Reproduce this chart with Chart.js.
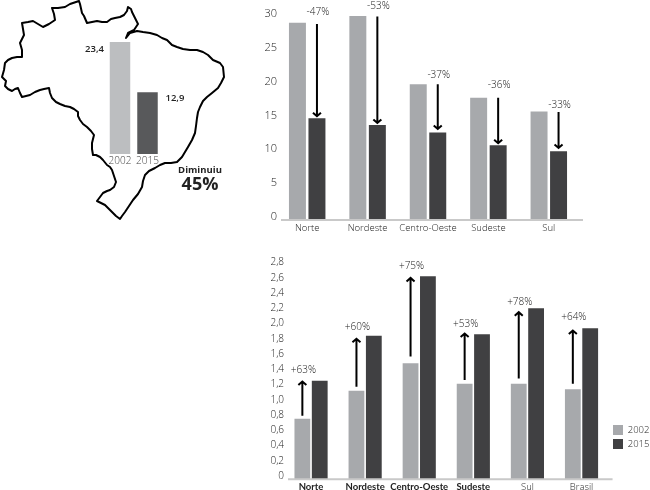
<!DOCTYPE html>
<html>
<head>
<meta charset="utf-8">
<title>Brasil 2002 / 2015</title>
<script src="https://cdn.jsdelivr.net/npm/chart.js@4/dist/chart.umd.min.js"></script>
<style>
	html, body { margin: 0; padding: 0; background: #fff; }
	#page { position: relative; width: 650px; height: 490px; overflow: hidden; }
	canvas { position: absolute; }
</style>
</head>
<body>
<div id="page">
	<canvas id="map-chart" width="240" height="230" style="left:0;top:0"></canvas>
	<canvas id="bar-chart1" width="330" height="240" style="left:260px;top:0"></canvas>
	<canvas id="bar-chart2" width="399" height="240" style="left:260px;top:250px"></canvas>
</div>
<script>
//Brazil total
const brazilYears = ['2002', '2015'];
const brazilValues = [23.4, 12.9];
const brazilLabels = ['23,4', '12,9'];

//Top chart
const regions1 = ['Norte', 'Nordeste', 'Centro-Oeste', 'Sudeste', 'Sul'];
const values1a = [28.7, 29.7, 19.6, 17.6, 15.6];
const values1b = [14.6, 13.6, 12.5, 10.6, 9.7];
const ticks1 = [0, 5, 10, 15, 20, 25, 30];
const pct1 = ['-47%', '-53%', '-37%', '-36%', '-33%'];
const arrowFrom1 = [28.5, 29.6, 19.6, 17.6, 15.5];
const arrowTo1 = [14.9, 13.9, 13.0, 10.9, 10.2];
const pctAt1 = [30.3, 31.2, 20.9, 19.5, 16.5];

//Bottom chart
const regions2 = ['Norte', 'Nordeste', 'Centro-Oeste', 'Sudeste', 'Sul', 'Brasil'];
const values2a = [0.75, 1.12, 1.48, 1.21, 1.21, 1.14];
const values2b = [1.25, 1.84, 2.62, 1.86, 2.20, 1.94];
const ticks2 = [0, 0.2, 0.4, 0.6, 0.8, 1.0, 1.2, 1.4, 1.6, 1.8, 2.0, 2.2, 2.4, 2.6, 2.8];
const tickLabels2 = ['0', '0,2', '0,4', '0,6', '0,8', '1,0', '1,2', '1,4', '1,6', '1,8', '2,0', '2,2', '2,4', '2,6', '2,8'];
const pct2 = ['+63%', '+60%', '+75%', '+53%', '+78%', '+64%'];
const arrowFrom2 = [0.79, 1.17, 1.57, 1.26, 1.28, 1.21];
const arrowTo2 = [1.24, 1.80, 2.60, 1.87, 2.15, 1.91];
const pctAt2 = [1.39, 1.95, 2.76, 1.99, 2.28, 2.08];

//Map outline, traced in canvas pixels
const mapOutline = [
	[76,2],[79,1],[80,4],[82,13],[84,16],[87,23],[92,22],[97,21],[102,22],[107,22],[111,19],[115,18],[120,17],[124,15],
	[127,11],[128,7],[131,9],[132,12],[135,18],[138,24],[134,30],[128,33],[126,38],[130,33],[137,31],[143,32],[150,33],
	[157,35],[162,38],[167,40],[172,45],[177,47],[183,49],[190,50],[197,50],[203,52],[208,55],[213,60],[220,63],[223,67],
	[224,77],[221,83],[218,88],[212,93],[207,97],[203,101],[200,107],[198,112],[197,118],[196,126],[195,133],[192,140],
	[188,147],[185,152],[182,157],[177,162],[171,163],[165,163],[160,165],[155,168],[149,171],[145,175],[143,181],[142,187],
	[138,194],[133,200],[129,206],[125,212],[122,216],[120,219],[116,216],[113,213],[109,209],[105,205],[101,203],[97,201],
	[100,197],[103,193],[107,191],[110,190],[114,187],[116,182],[114,176],[112,170],[110,167],[107,165],[103,160],[100,157],
	[96,155],[93,155],[92,149],[92,143],[94,135],[91,131],[87,127],[83,124],[80,120],[78,116],[78,112],[74,109],[70,107],
	[65,106],[60,104],[56,102],[52,98],[50,93],[49,88],[44,89],[40,90],[35,92],[30,95],[26,96],[22,97],[20,93],[18,88],
	[15,89],[12,91],[8,89],[5,86],[6,81],[2,77],[4,70],[5,63],[8,60],[12,58],[17,57],[22,57],[22,50],[20,43],[22,39],
	[24,35],[23,29],[22,23],[28,22],[33,21],[38,24],[43,27],[49,24],[55,20],[54,14],[52,8],[58,8],[65,7],[70,4],[76,2]
];

const fontName = '"Open Sans", sans-serif';
const textColor = '#222';

//draws the axis line a little to the right of the plot, like the original
const baseLine = {
	id: 'baseLine',
	afterDatasetsDraw(chart) {
		const a = chart.chartArea, c = chart.ctx;
		c.save();
		c.strokeStyle = '#c9c9c9';
		c.lineWidth = 2;
		c.beginPath();
		c.moveTo(a.left + 4, a.bottom);
		c.lineTo(a.right + 4, a.bottom);
		c.stroke();
		c.restore();
	}
};

//legend sits beside the bars, higher up than the library would put it
const moveLegend = {
	id: 'moveLegend',
	afterLayout(chart) {
		chart.legend.left = 349;
		chart.legend.bottom -= 37;
	}
};

//arrows and percent labels, placed through the y scale
function arrowPlugin(barSet, from, to, at, pct) {
	return {
		id: 'arrows',
		afterDraw(chart) {
			const c = chart.ctx, y = chart.scales.y, bars = chart.getDatasetMeta(barSet).data;
			c.save();
			c.strokeStyle = '#000';
			c.lineWidth = 2;
			c.fillStyle = textColor;
			c.textAlign = 'center';
			c.textBaseline = 'middle';
			c.font = '300 10px ' + fontName;
			bars.forEach(function(bar, i) {
				const x = bar.x, y0 = y.getPixelForValue(from[i]), y1 = y.getPixelForValue(to[i]);
				const dir = y1 > y0 ? -1 : 1;
				c.beginPath();
				c.moveTo(x, y0);
				c.lineTo(x, y1);
				c.moveTo(x - 4, y1 + dir * 3.5);
				c.lineTo(x, y1);
				c.lineTo(x + 4, y1 + dir * 3.5);
				c.stroke();
				c.fillText(pct[i], x + 1, y.getPixelForValue(at[i]));
			});
			c.restore();
		}
	};
}

const mapPlugin = {
	id: 'brazilMap',
	beforeDatasetsDraw(chart) {
		const c = chart.ctx;
		c.save();
		c.strokeStyle = '#000';
		c.lineWidth = 2;
		c.lineJoin = 'round';
		c.beginPath();
		mapOutline.forEach(function(p, i) {
			if (i === 0) c.moveTo(p[0], p[1]); else c.lineTo(p[0], p[1]);
		});
		c.stroke();
		c.restore();
	},
	afterDraw(chart) {
		const c = chart.ctx, bars = chart.getDatasetMeta(0).data;
		c.save();
		c.fillStyle = '#222';
		c.textBaseline = 'middle';
		c.font = '600 9.5px ' + fontName;
		c.textAlign = 'right';
		c.fillText(brazilLabels[0], bars[0].x - 16, bars[0].y + 7);
		c.textAlign = 'left';
		c.fillText(brazilLabels[1], bars[1].x + 18, bars[1].y + 6);
		c.textAlign = 'center';
		c.font = 'bold 9.5px ' + fontName;
		c.fillText('Diminuiu', 200, 170);
		c.font = 'bold 18px ' + fontName;
		c.fillText('45%', 200, 185);
		c.restore();
	}
};

function tickFont(size) {
	return { family: fontName, size: size, weight: '300' };
}

new Chart(document.getElementById('map-chart'), {
	type: 'bar',
	plugins: [mapPlugin],
	data: {
		labels: brazilYears,
		datasets: [{
			data: brazilValues,
			backgroundColor: ['#bcbec0', '#58595b'],
			barPercentage: 0.745,
			categoryPercentage: 1
		}]
	},
	options: {
		responsive: false,
		animation: false,
		layout: { padding: { left: 106.25, right: 78.75, top: 42 } },
		plugins: { legend: { display: false }, tooltip: { enabled: false } },
		scales: {
			x: {
				grid: { display: false, drawTicks: false },
				border: { display: false },
				afterFit(scale) { scale.height = 76; },
				ticks: { color: '#444', font: tickFont(10), padding: 1, maxRotation: 0, autoSkip: false }
			},
			y: { display: false, min: 0, max: 23.4 }
		}
	}
});

new Chart(document.getElementById('bar-chart1'), {
	type: 'bar',
	plugins: [baseLine, arrowPlugin(1, arrowFrom1, arrowTo1, pctAt1, pct1)],
	data: {
		labels: regions1,
		datasets: [
			{
				data: values1a,
				label: '2002',
				base: -0.44,
				backgroundColor: '#a7a9ac',
				barPercentage: 0.87,
				categoryPercentage: 0.646
			},
			{
				data: values1b,
				label: '2015',
				base: -0.44,
				backgroundColor: '#404042',
				barPercentage: 0.87,
				categoryPercentage: 0.646
			}
		]
	},
	options: {
		responsive: false,
		animation: false,
		layout: { padding: { top: 8, right: 11 } },
		plugins: { legend: { display: false }, tooltip: { enabled: false } },
		scales: {
			x: {
				grid: { display: false, drawTicks: false },
				border: { display: false },
				afterFit(scale) { scale.height = 20; },
				ticks: { color: textColor, font: tickFont(9.5), padding: 3, maxRotation: 0, autoSkip: false }
			},
			y: {
				min: -0.44,
				max: 30.87,
				grid: { display: false, drawTicks: false },
				border: { display: false },
				afterBuildTicks(scale) { scale.ticks = ticks1.map(function(v) { return { value: v }; }); },
				afterFit(scale) { scale.width = 17; },
				ticks: { color: textColor, font: tickFont(11), padding: 0, autoSkip: false }
			}
		}
	}
});

new Chart(document.getElementById('bar-chart2'), {
	type: 'bar',
	plugins: [baseLine, moveLegend, arrowPlugin(0, arrowFrom2, arrowTo2, pctAt2, pct2)],
	data: {
		labels: regions2,
		datasets: [
			{
				data: values2a,
				label: '2002',
				base: -0.043,
				backgroundColor: '#a7a9ac',
				barPercentage: 0.91,
				categoryPercentage: 0.642
			},
			{
				data: values2b,
				label: '2015',
				base: -0.043,
				backgroundColor: '#404042',
				barPercentage: 0.91,
				categoryPercentage: 0.642
			}
		]
	},
	options: {
		responsive: false,
		animation: false,
		layout: { padding: { top: 8 } },
		plugins: {
			tooltip: { enabled: false },
			legend: {
				position: 'right',
				align: 'end',
				labels: {
					color: textColor,
					font: tickFont(9.5),
					boxWidth: 10,
					boxHeight: 10,
					padding: 4
				}
			}
		},
		scales: {
			x: {
				grid: { display: false, drawTicks: false },
				border: { display: false },
				afterFit(scale) { scale.height = 10.7; },
				ticks: {
					color: '#222',
					font: function(ctx) {
						return ctx.index < 4
							? { family: 'Lato, sans-serif', size: 9.5, weight: 'bold' }
							: { family: fontName, size: 9.5, weight: '300' };
					},
					padding: 2,
					maxRotation: 0,
					autoSkip: false
				}
			},
			y: {
				min: -0.043,
				max: 2.861,
				grid: { display: false, drawTicks: false },
				border: { display: false },
				afterBuildTicks(scale) { scale.ticks = ticks2.map(function(v) { return { value: v }; }); },
				afterFit(scale) { scale.width = 24; },
				ticks: {
					color: textColor,
					font: tickFont(10),
					padding: 0,
					autoSkip: false,
					callback: function(v, i) { return tickLabels2[i]; }
				}
			}
		}
	}
});
</script>
</body>
</html>
